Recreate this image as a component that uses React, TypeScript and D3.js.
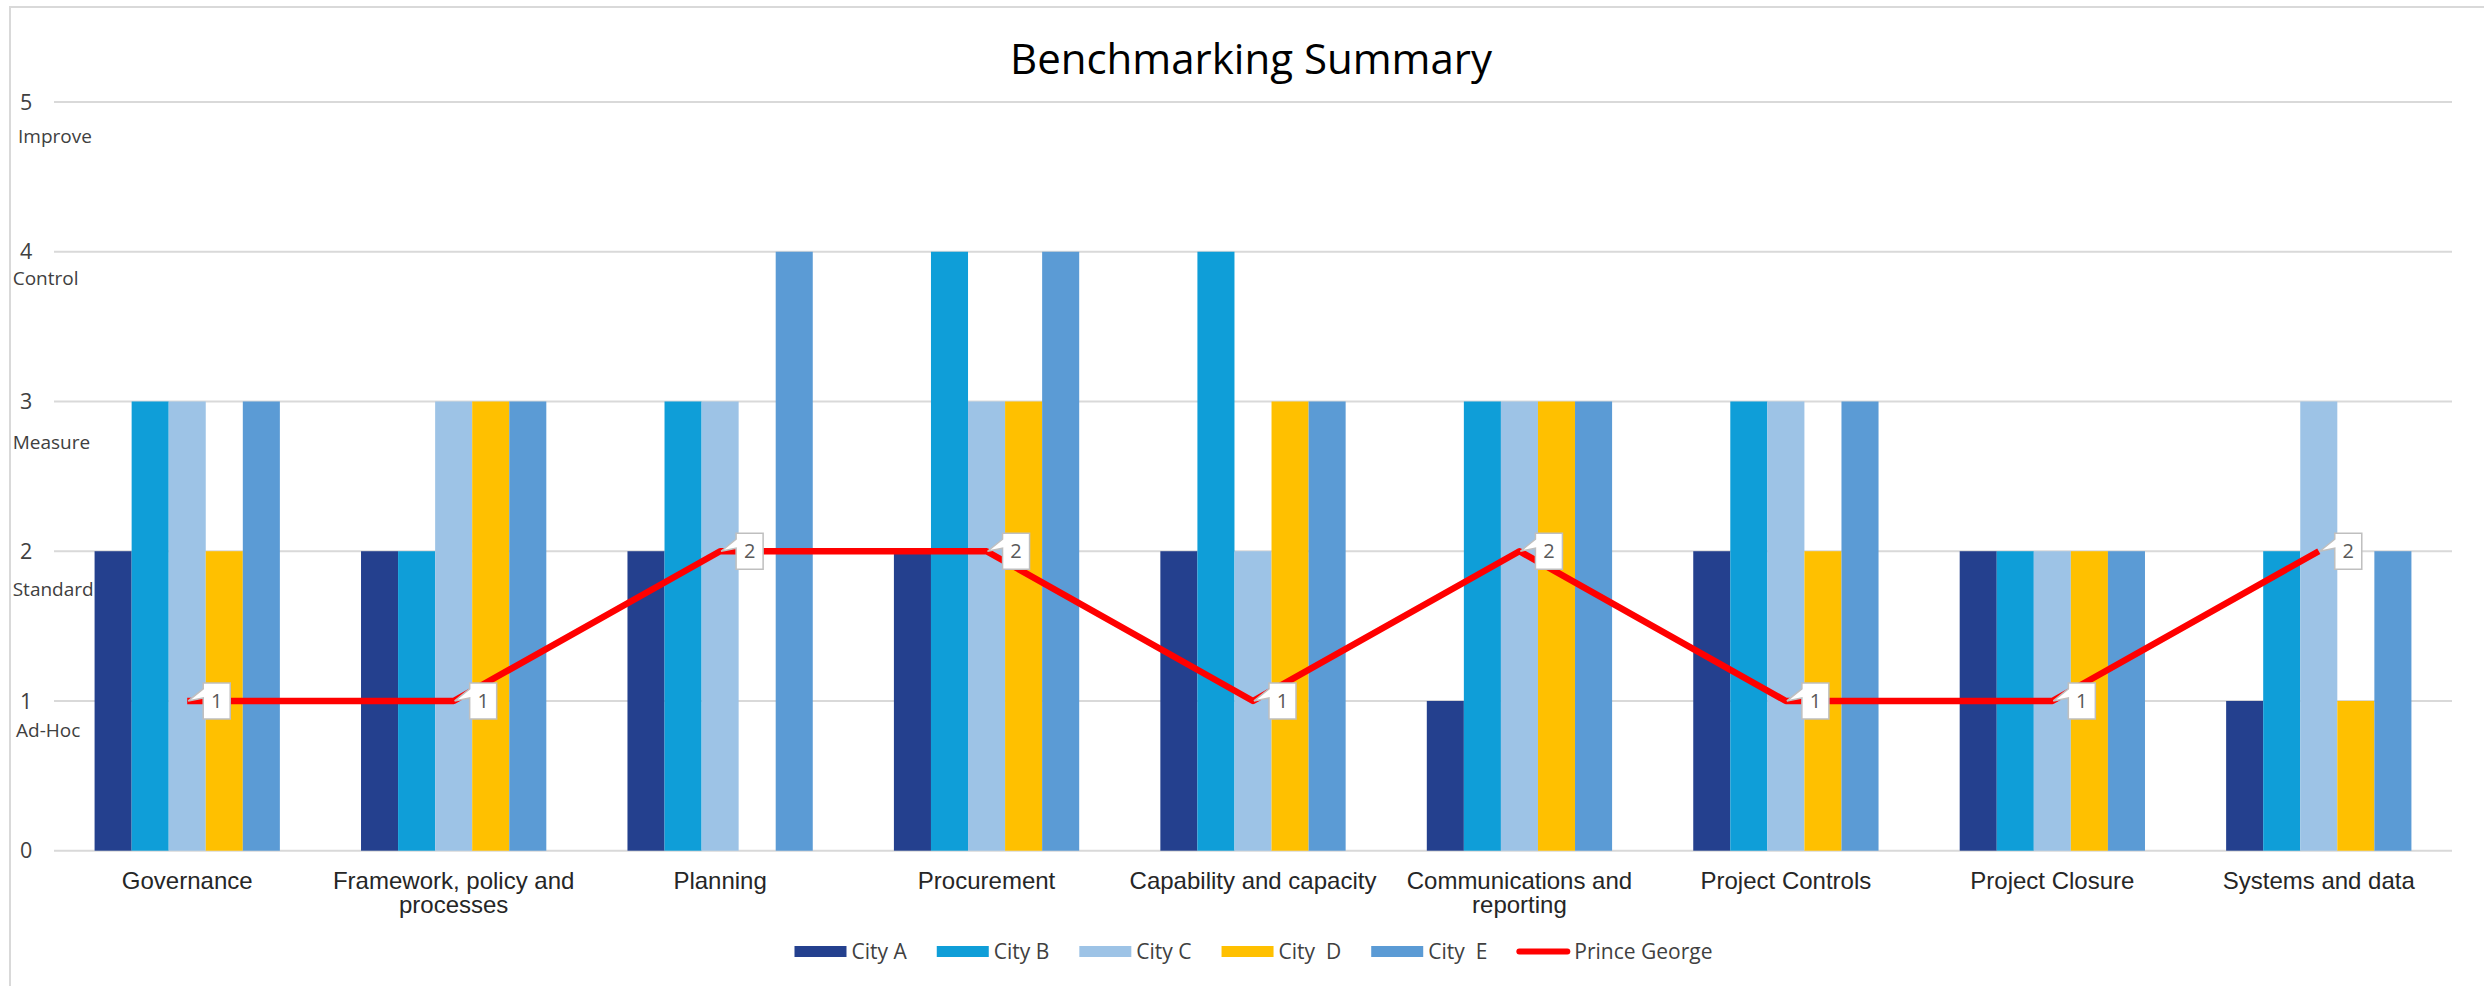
import React from "react";
import * as d3 from "d3";

// ---------- data ----------
const categories = [
  "Governance",
  "Framework, policy and processes",
  "Planning",
  "Procurement",
  "Capability and capacity",
  "Communications and reporting",
  "Project Controls",
  "Project Closure",
  "Systems and data",
];
const seriesNames = ["City A", "City B", "City C", "City  D", "City  E"];
const cityA = [2, 2, 2, 2, 2, 1, 2, 2, 1];
const cityB = [3, 2, 3, 4, 4, 3, 3, 2, 2];
const cityC = [3, 3, 3, 3, 2, 3, 3, 2, 3];
const cityD = [2, 3, 0, 3, 3, 3, 2, 2, 1];
const cityE = [3, 3, 4, 4, 3, 3, 3, 2, 2];
const lineName = "Prince George";
const princeGeorge = [1, 1, 2, 2, 1, 2, 1, 1, 2];
const yTicks = [0, 1, 2, 3, 4, 5];
const levelNames = ["", "Ad-Hoc", "Standard", "Measure", "Control", "Improve"];
const title = "Benchmarking Summary";

// ---------- styles / layout ----------
const seriesColors = ["#24408E", "#0F9ED8", "#9DC3E6", "#FFC000", "#5B9BD5"];
const lineColor = "#FF0000";
const W = 2484;
const H = 986;
const plotLeft = 54;
const plotRight = 2452;
const yZero = 850.7;
const yFive = 102;
// baseline offset (below gridline) and x of level words
const levelOffsets = [0, 36, 45, 48, 33, 41];
const levelX = [0, 16, 12.7, 12.7, 12.7, 18];
const uiFont = "'Open Sans', 'Noto Sans', sans-serif";
const axisFont = "'Liberation Sans', Arial, sans-serif";

const seriesValues = [cityA, cityB, cityC, cityD, cityE];

let measureCtx: CanvasRenderingContext2D | null = null;
function measure(text: string, font: string): number {
  if (!measureCtx) measureCtx = document.createElement("canvas").getContext("2d");
  if (!measureCtx) return text.length * 12;
  measureCtx.font = font;
  return measureCtx.measureText(text).width;
}
function wrap(label: string, maxW: number, font: string): string[] {
  const words = label.split(" ");
  const lines: string[] = [];
  let cur = "";
  for (const w of words) {
    const t = cur ? cur + " " + w : w;
    if (cur && measure(t, font) > maxW) {
      lines.push(cur);
      cur = w;
    } else cur = t;
  }
  if (cur) lines.push(cur);
  return lines;
}

export default function App() {
  const x0 = d3
    .scaleBand<string>()
    .domain(categories)
    .range([plotLeft, plotRight])
    .paddingInner(2.19 / 7.19)
    .paddingOuter(2.19 / 7.19 / 2);
  const x1 = d3
    .scaleBand<string>()
    .domain(seriesNames)
    .range([0, x0.bandwidth()]);
  const y = d3.scaleLinear().domain([0, 5]).range([yZero, yFive]);

  const pts: [number, number][] = categories.map((c, i) => [
    (x0(c) as number) + x0.bandwidth() / 2,
    y(princeGeorge[i]),
  ]);
  const linePath = d3.line()(pts) || "";

  const xFontSize = 24;
  const xFont = `${xFontSize}px 'Liberation Sans'`;

  // legend layout
  const legFontSize = 21;
  const legFont = `${legFontSize}px 'Open Sans'`;
  const legItems = [...seriesNames, lineName];
  const swW = 52;
  const swGap = 5;
  const itemGap = 30;
  const widths = legItems.map((n) => swW + swGap + measure(n, legFont));
  const totalW = d3.sum(widths) + itemGap * (legItems.length - 1);
  let lx = 1253.5 - totalW / 2;
  const legY = 951.5;
  const legendPos = widths.map((w) => {
    const p = lx;
    lx += w + itemGap;
    return p;
  });

  return (
    <svg
      width={W}
      height={H}
      style={{ position: "absolute", left: 0, top: 0, background: "#fff" }}
    >
      <rect x={0} y={0} width={W} height={H} fill="#fff" />
      <rect x={10} y={7} width={2600} height={1100} fill="none" stroke="#d9d9d9" strokeWidth={2} />

      {/* title */}
      <text
        x={1251}
        y={74}
        textAnchor="middle"
        fontFamily={uiFont}
        fontSize={42}
        fill="#000"
      >
        {title}
      </text>

      {/* gridlines */}
      {yTicks.map((t) => (
        <line
          key={"g" + t}
          x1={plotLeft}
          x2={plotRight}
          y1={y(t)}
          y2={y(t)}
          stroke="#d9d9d9"
          strokeWidth={2}
        />
      ))}

      {/* y tick labels */}
      {yTicks.map((t) => (
        <g key={"yl" + t} fontFamily={uiFont} fill="#404040">
          <text x={20} y={y(t)} dy="0.36em" fontSize={21.5}>
            {t}
          </text>
          {levelNames[t] && (
            <text x={levelX[t]} y={y(t) + levelOffsets[t]} fontSize={19}>
              {levelNames[t]}
            </text>
          )}
        </g>
      ))}

      {/* bars */}
      {categories.map((c, i) => (
        <g key={"b" + i} transform={`translate(${x0(c)},0)`}>
          {seriesNames.map((s, j) => {
            const v = seriesValues[j][i];
            if (!v) return null;
            return (
              <rect
                key={s}
                x={x1(s)}
                y={y(v)}
                width={x1.bandwidth()}
                height={yZero - y(v)}
                fill={seriesColors[j]}
              />
            );
          })}
        </g>
      ))}

      {/* line */}
      <path
        d={linePath}
        fill="none"
        stroke={lineColor}
        strokeWidth={6.5}
        strokeLinejoin="round"
      />

      {/* data callouts */}
      {pts.map(([px, py], i) => {
        const bx = px + 16;
        const by = py - 18;
        const bw = 27;
        const bh = 36;
        const d = `M${bx},${by} L${bx + bw},${by} L${bx + bw},${by + bh} L${bx},${by + bh} L${bx},${py - 3} L${px + 1},${py} L${bx},${py - 12} Z`;
        return (
          <g key={"c" + i}>
            <path d={d} fill="#fff" stroke="#bfbfbf" strokeWidth={1.5} />
            <text
              x={bx + bw / 2}
              y={py}
              dy="0.36em"
              textAnchor="middle"
              fontFamily={uiFont}
              fontSize={20}
              fill="#595959"
            >
              {princeGeorge[i]}
            </text>
          </g>
        );
      })}

      {/* x labels */}
      {categories.map((c, i) => {
        const lines = wrap(c, 255, xFont);
        const cx = (x0(c) as number) + x0.bandwidth() / 2;
        return (
          <text
            key={"x" + i}
            textAnchor="middle"
            fontFamily={axisFont}
            fontSize={xFontSize}
            fill="#262626"
          >
            {lines.map((l, k) => (
              <tspan key={k} x={cx} y={888.5 + k * 24}>
                {l}
              </tspan>
            ))}
          </text>
        );
      })}

      {/* legend */}
      {legItems.map((n, i) => {
        const px = legendPos[i];
        const isLine = i === legItems.length - 1;
        return (
          <g key={"l" + i}>
            {isLine ? (
              <line
                x1={px + 2}
                x2={px + swW - 2}
                y1={legY}
                y2={legY}
                stroke={lineColor}
                strokeWidth={6}
                strokeLinecap="round"
              />
            ) : (
              <rect x={px} y={legY - 5.5} width={swW} height={11} fill={seriesColors[i]} />
            )}
            <text
              x={px + swW + swGap}
              y={legY}
              dy="0.36em"
              fontFamily={uiFont}
              fontSize={legFontSize}
              fill="#404040"
              style={{ whiteSpace: "pre" }}
            >
              {n}
            </text>
          </g>
        );
      })}
    </svg>
  );
}
